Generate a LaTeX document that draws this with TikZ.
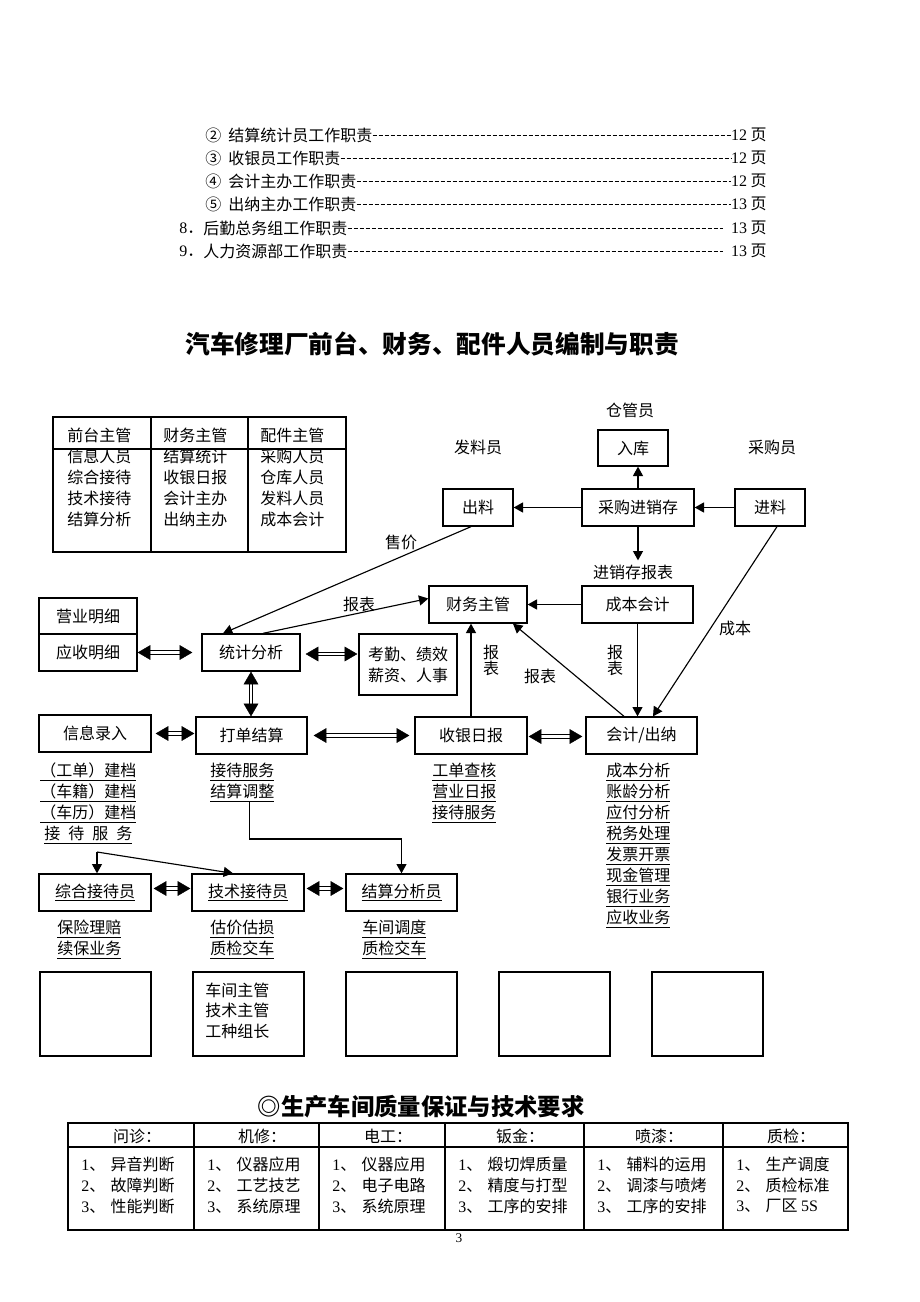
\documentclass[tikz,border=0pt]{standalone}
\usepackage{fontspec}
\setmainfont{Liberation Serif}
\newfontfamily\cjk{Noto Sans CJK SC}
\usetikzlibrary{arrows.meta,calc}
\newcommand\lat[1]{{\rmfamily #1}}
\tikzset{
 base/.style={font=\cjk\fontsize{12}{15.75}\selectfont, inner sep=0pt},
 txt/.style={base},
 box/.style={base, draw, line width=1pt, rectangle, align=center},
 arr/.style={line width=0.85pt, -{Triangle[length=7pt,width=7.5pt]}},
 ln/.style={line width=1pt},
 dblline/.style={draw, double, double distance=2pt, line width=0.85pt, shorten <=8pt, shorten >=8pt},
 dbltip/.style={draw=white, line width=0.3pt, {Triangle[length=9.5pt,width=11pt,color=black]}-{Triangle[length=9.5pt,width=11pt,color=black]}},
 leader/.style={line width=0.6pt, dash pattern=on 3pt off 1.5pt},
}
\newcommand\bx[6]{\node[box, minimum width={(#4-#2)*0.75pt}, minimum height={(#5-#3)*0.75pt}] (#1) at ({(#2+#4)/2},{(#3+#5)/2}) {#6};}
\newcommand\dbl[2]{\draw[dblline] #1 -- #2; \draw[dbltip] #1 -- #2;}
\begin{document}
\begin{tikzpicture}[x=0.75pt,y=-0.75pt]
\useasboundingbox (0,0) rectangle (920,1302);
\fill[white] (0,0) rectangle (920,1302);

% ---------- TOC ----------
\foreach \n/\t/\p/\y [count=\i] in {②/结算统计员工作职责/12/135, ③/收银员工作职责/12/158, ④/会计主办工作职责/12/181, ⑤/出纳主办工作职责/13/204}{
  \node[txt, anchor=west] (tc\i) at (205,\y) {\n};
  \node[txt, anchor=west] (tt\i) at (228,\y) {\t};
  \node[txt, anchor=east] (tp\i) at (767,\y) {\lat{\p} 页};
  \draw[leader] (tt\i.east) -- (tp\i.west);
}
\foreach \n/\t/\y [count=\i] in {8/后勤总务组工作职责/228, 9/人力资源部工作职责/251}{
  \node[txt, anchor=west] (sc\i) at (179,\y) {\lat{\n}．};
  \node[txt, anchor=west] (st\i) at (203,\y) {\t};
  \node[txt, anchor=east] (sp\i) at (767,\y) {\lat{13} 页};
  \draw[leader] (st\i.east) -- ($(sp\i.west)+(-8,0)$);
}

% ---------- Title ----------
\node[base, font=\cjk\bfseries\fontsize{18.5}{20}\selectfont] (title) at (432,344) {汽车修理厂前台、财务、配件人员编制与职责};

% ---------- top-left table ----------
\draw[ln] (53,417) rectangle (346,552);
\draw[ln] (151,417) -- (151,552);
\draw[ln] (248,417) -- (248,552);
\draw[ln] (53,449) -- (346,449);
\node[txt, anchor=west] (h1) at (67,435) {前台主管};
\node[txt, anchor=west] (h2) at (163,435) {财务主管};
\node[txt, anchor=west] (h3) at (260,435) {配件主管};
\foreach \a/\b/\c/\y [count=\i] in {信息人员/结算统计/采购人员/456, 综合接待/收银日报/仓库人员/477, 技术接待/会计主办/发料人员/498, 结算分析/出纳主办/成本会计/519}{
  \node[txt, anchor=west] (ra\i) at (67,\y) {\a};
  \node[txt, anchor=west] (rb\i) at (163,\y) {\b};
  \node[txt, anchor=west] (rc\i) at (260,\y) {\c};
}

% ---------- labels ----------
\node[txt] (lcg) at (630,410) {仓管员};
\node[txt] (lfl) at (478,447) {发料员};
\node[txt] (lcgy) at (772,447) {采购员};
\node[txt] (ljx) at (633,572) {进销存报表};
\node[txt] (lsj) at (401,542) {售价};
\node[txt] (lbb1) at (359,604) {报表};
\node[txt] (lbb2a) at (491,652) {报};
\node[txt] (lbb2b) at (491,668) {表};
\node[txt] (lbb3) at (540,676) {报表};
\node[txt] (lbb4a) at (615,652) {报};
\node[txt] (lbb4b) at (615,668) {表};
\node[txt] (lcb) at (735,628) {成本};

% ---------- boxes ----------
\bx{rk}{598}{430}{668}{466}{入库}
\bx{cl}{443}{489}{513}{526}{出料}
\bx{cg}{582}{489}{694}{526}{采购进销存}
\bx{jl}{735}{489}{805}{526}{进料}
\bx{yy}{39}{598}{137}{634}{营业明细}
\bx{ys}{39}{634}{137}{671}{应收明细}
\bx{tj}{202}{634}{300}{671}{统计分析}
\bx{kq}{359}{634}{457}{695}{考勤、绩效\\薪资、人事}
\bx{cw}{429}{586}{527}{623}{财务主管}
\bx{cb}{582}{586}{693}{623}{成本会计}
\bx{xx}{39}{715}{151}{752}{信息录入}
\bx{dd}{196}{717}{307}{754}{打单结算}
\bx{sy}{415}{717}{527}{754}{收银日报}
\bx{kj}{586}{717}{697}{754}{会计/出纳}
\bx{zh}{39}{874}{151}{911}{\underline{综合接待员}}
\bx{js}{192}{874}{304}{911}{\underline{技术接待员}}
\bx{jf}{346}{874}{457}{911}{\underline{结算分析员}}
\bx{b1}{40}{972}{151}{1056}{}
\bx{b2}{193}{972}{304}{1056}{}
\bx{b3}{346}{972}{457}{1056}{}
\bx{b4}{499}{972}{610}{1056}{}
\bx{b5}{652}{972}{763}{1056}{}
\node[txt, anchor=west] (b2t1) at (205,990) {车间主管};
\node[txt, anchor=west] (b2t2) at (205,1010) {技术主管};
\node[txt, anchor=west] (b2t3) at (205,1031) {工种组长};

% ---------- single arrows ----------
\draw[arr] (cg.west) -- (cl.east);
\draw[arr] (jl.west) -- (cg.east);
\draw[arr] (cg.north) -- (cg.north |- rk.south);
\draw[arr] (cg.south) -- ($(ljx.north -| cg.south)+(0,-4)$);
\draw[arr] ($(cl.south)+(-7,0)$) -- ($(tj.north)+(-28,0)$);
\draw[arr] ($(tj.north)+(12,0)$) -- ($(cw.west)+(0,-6)$);
\draw[arr] (cb.west) -- (cw.east);
\draw[arr] (sy.north) -- (sy.north |- cw.south);
\draw[arr] ($(kj.north)+(-17.5,0)$) -- ($(cw.south)+(35,0)$);
\draw[arr] (cb.south) -- (cb.south |- kj.north);
\draw[arr] ($(jl.south)+(7,0)$) -- ($(kj.north)+(11.5,0)$);

% ---------- double arrows ----------
\dbl{(ys.east)}{($(ys.east -| tj.west)+(-9,0)$)}
\dbl{($(tj.east)+(5,1.5)$)}{($(kq.west |- tj.east)+(-1,1.5)$)}
\dbl{(tj.south)}{(tj.south |- dd.north)}
\dbl{($(xx.east)+(4,0)$)}{($(xx.east -| dd.west)+(-1,0)$)}
\dbl{($(dd.east)+(6,0)$)}{($(sy.west)+(-5,0)$)}
\dbl{($(sy.east)+(1,1)$)}{($(kj.west)+(-3,1)$)}
\dbl{($(zh.east)+(2,-4)$)}{($(js.west)+(-1,-4)$)}
\dbl{($(js.east)+(2,-4)$)}{($(jf.west)+(-2,-4)$)}

% ---------- underlined lists ----------
\foreach \t [count=\i] in {（工单）建档,（车籍）建档,（车历）建档}{
  \node[txt, anchor=west] (la\i) at (40,{751+21*\i}) {\underline{\t}};
}
\node[txt, anchor=west] (la4) at (44,835) {\underline{接\hspace{6pt}待\hspace{6pt}服\hspace{6pt}务}};
\node[txt, anchor=west] (lb1) at (210,772) {\underline{接待服务}};
\node[txt, anchor=west] (lb2) at (210,793) {\underline{结算调整}};
\foreach \t [count=\i] in {工单查核,营业日报,接待服务}{
  \node[txt, anchor=west] (lc\i) at (432,{751+21*\i}) {\underline{\t}};
}
\foreach \t [count=\i] in {成本分析,账龄分析,应付分析,税务处理,发票开票,现金管理,银行业务,应收业务}{
  \node[txt, anchor=west] (ld\i) at (606,{751+21*\i}) {\underline{\t}};
}
\node[txt, anchor=west] (le1) at (57,929) {\underline{保险理赔}};
\node[txt, anchor=west] (le2) at (57,950) {\underline{续保业务}};
\node[txt, anchor=west] (lf1) at (210,929) {\underline{估价估损}};
\node[txt, anchor=west] (lf2) at (210,950) {\underline{质检交车}};
\node[txt, anchor=west] (lg1) at (362,929) {\underline{车间调度}};
\node[txt, anchor=west] (lg2) at (362,950) {\underline{质检交车}};

% ---------- lower connectors ----------
\draw[arr] ($(lb2.south)+(7,0)$) -- ++(0,37) -| (jf.north);
\coordinate (jn) at (97,852);
\draw[arr] (jn) -- (jn |- zh.north);
\draw[arr] (jn) -- ($(js.north)+(-15,0)$);

% ---------- bottom table ----------
\node[base, font=\cjk\bfseries\fontsize{17.5}{19}\selectfont] (title2) at (421,1107) {◎生产车间质量保证与技术要求};
\draw[ln] (68,1123) rectangle (848,1230);
\draw[ln] (68,1147) -- (848,1147);
\foreach \x in {194,319,445,584,723}{ \draw[ln] (\x,1123) -- (\x,1230); }
\foreach \h/\x [count=\i] in {问诊/131,机修/256,电工/382,钣金/514,喷漆/653,质检/785}{
  \node[txt] (th\i) at (\x+6,1136) {\h：};
}
\foreach \l/\a/\b/\c [count=\i] in {68/异音判断/故障判断/性能判断, 194/仪器应用/工艺技艺/系统原理, 319/仪器应用/电子电路/系统原理, 445/煅切焊质量/精度与打型/工序的安排, 584/辅料的运用/调漆与喷烤/工序的安排}{
  \node[txt, anchor=west] (ta\i) at (\l+13,1164) {\lat{1}、\hspace{4pt}\a};
  \node[txt, anchor=west] (tb\i) at (\l+13,1185) {\lat{2}、\hspace{4pt}\b};
  \node[txt, anchor=west] (tcc\i) at (\l+13,1206) {\lat{3}、\hspace{4pt}\c};
}
\node[txt, anchor=west] (ta6) at (736,1164) {\lat{1}、\hspace{4pt}生产调度};
\node[txt, anchor=west] (tb6) at (736,1185) {\lat{2}、\hspace{4pt}质检标准};
\node[txt, anchor=west] (tcc6) at (736,1206) {\lat{3}、\hspace{4pt}厂区 \lat{5S}};
\node[txt, font=\rmfamily\fontsize{10}{12}\selectfont] (pg) at (459,1238) {3};
\end{tikzpicture}
\end{document}
